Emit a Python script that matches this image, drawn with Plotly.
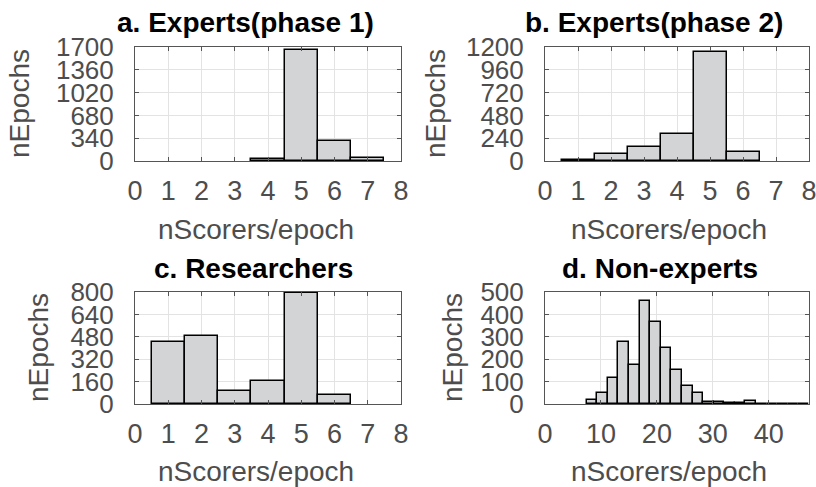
import plotly.graph_objects as go

# ---------------- data ----------------
a_bins = [4, 5, 6, 7]
a_counts = [30, 1660, 302, 50]

b_bins = [1, 2, 3, 4, 5, 6]
b_counts = [8, 70, 147, 280, 1148, 94]

c_bins = [1, 2, 3, 4, 5, 6]
c_counts = [441, 489, 96, 165, 795, 62]

d_first_edge = 7.44
d_bin_width = 1.893
d_counts = [18, 48, 117, 275, 174, 462, 365, 251, 153, 81, 47,
            9, 7, 3, 3, 12, 0, 2, 2, 0, 1]

titles = ["a. Experts(phase 1)", "b. Experts(phase 2)", "c. Researchers", "d. Non-experts"]
x_label = "nScorers/epoch"
y_label = "nEpochs"

a_yticks = [0, 340, 680, 1020, 1360, 1700]
b_yticks = [0, 240, 480, 720, 960, 1200]
c_yticks = [0, 160, 320, 480, 640, 800]
d_yticks = [0, 100, 200, 300, 400, 500]
small_xticks = [0, 1, 2, 3, 4, 5, 6, 7, 8]
d_xticks = [0, 10, 20, 30, 40]

# ---------------- figure ----------------
W, H = 816, 487
FONT = "Liberation Sans, Arial, sans-serif"
TICK_COLOR = "#4d4d4d"
GRID = "#e3e3e3"
LINE = "#555555"
FILL = "#d3d4d6"

d_bins = [d_first_edge + d_bin_width * (i + 0.5) for i in range(len(d_counts))]

panels = [
    (a_bins, a_counts, 1.0, "x", "y"),
    (b_bins, b_counts, 1.0, "x2", "y2"),
    (c_bins, c_counts, 1.0, "x3", "y3"),
    (d_bins, d_counts, d_bin_width, "x4", "y4"),
]

fig = go.Figure()
for xs, ys, w, xa, ya in panels:
    fig.add_trace(go.Bar(
        x=xs, y=ys, width=w,
        marker=dict(color=FILL, line=dict(color="black", width=1.5)),
        xaxis=xa, yaxis=ya, hoverinfo="x+y",
    ))

def px_x(p):
    return p / W

def px_y(p):
    return 1 - p / H

left_dom = [px_x(135), px_x(401)]
right_dom = [px_x(545), px_x(809)]
top_dom = [px_y(161), px_y(47)]
bot_dom = [px_y(404), px_y(292)]

def xaxis(domain, rng, ticks, anchor):
    return dict(domain=domain, range=rng, tickvals=ticks, anchor=anchor,
                automargin=False, ticklabeloverflow="allow",
                showgrid=True, gridcolor=GRID, gridwidth=1,
                ticks="inside", ticklen=4, tickcolor=LINE,
                showline=True, linecolor=LINE, linewidth=1, mirror="allticks",
                zeroline=False, fixedrange=True,
                tickfont=dict(family=FONT, size=27, color=TICK_COLOR),
                ticklabelstandoff=6)

def yaxis(domain, rng, ticks, anchor):
    return dict(domain=domain, range=rng, tickvals=ticks, anchor=anchor,
                automargin=False, ticklabeloverflow="allow",
                showgrid=True, gridcolor=GRID, gridwidth=1,
                ticks="inside", ticklen=4, tickcolor=LINE,
                showline=True, linecolor=LINE, linewidth=1, mirror="allticks",
                zeroline=False, fixedrange=True,
                tickfont=dict(family=FONT, size=26, color=TICK_COLOR),
                ticklabelstandoff=15)

fig.update_layout(
    width=W, height=H,
    margin=dict(l=0, r=0, t=0, b=0, autoexpand=False),
    paper_bgcolor="white", plot_bgcolor="white",
    showlegend=False, bargap=0,
    xaxis=xaxis(left_dom, [0, 8], small_xticks, "y"),
    yaxis=yaxis(top_dom, [0, 1700], a_yticks, "x"),
    xaxis2=xaxis(right_dom, [0, 8], small_xticks, "y2"),
    yaxis2=yaxis(top_dom, [0, 1200], b_yticks, "x2"),
    xaxis3=xaxis(left_dom, [0, 8], small_xticks, "y3"),
    yaxis3=yaxis(bot_dom, [0, 800], c_yticks, "x3"),
    xaxis4=xaxis(right_dom, [0, d_first_edge + d_bin_width * len(d_counts)], d_xticks, "y4"),
    yaxis4=yaxis(bot_dom, [0, 500], d_yticks, "x4"),
)

annotations = []
title_pos = [(245, 23), (654, 23), (253, 268), (660, 268)]
for t, (cx, cy) in zip(titles, title_pos):
    annotations.append(dict(text="<b>%s</b>" % t, x=px_x(cx), y=px_y(cy),
                            xref="paper", yref="paper", xanchor="center", yanchor="middle",
                            showarrow=False, font=dict(family=FONT, size=28, color="black")))
xlab_pos = [(256, 229), (669, 229), (256, 471), (669, 471)]
for cx, cy in xlab_pos:
    annotations.append(dict(text=x_label, x=px_x(cx), y=px_y(cy),
                            xref="paper", yref="paper", xanchor="center", yanchor="middle",
                            showarrow=False, font=dict(family=FONT, size=28, color=TICK_COLOR)))
ylab_pos = [(19, 104), (435, 104), (38, 348), (452, 348)]
for cx, cy in ylab_pos:
    annotations.append(dict(text=y_label, x=px_x(cx), y=px_y(cy), textangle=-90,
                            xref="paper", yref="paper", xanchor="center", yanchor="middle",
                            showarrow=False, font=dict(family=FONT, size=28, color=TICK_COLOR)))
fig.update_layout(annotations=annotations)

fig.write_html("out.html",
               config={"displayModeBar": False},
               post_script="document.body.style.margin='0';document.body.style.overflow='hidden';")
